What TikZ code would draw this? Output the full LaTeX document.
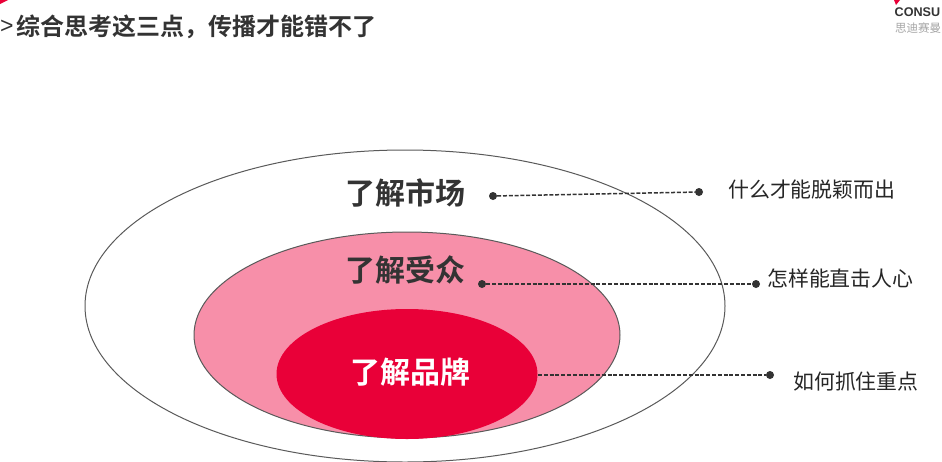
\documentclass[tikz,border=0pt]{standalone}
\usepackage{fontspec}
\setmainfont{Liberation Sans}
\newfontfamily\cjk{Noto Sans CJK SC}
\newfontfamily\cjkb{Noto Sans CJK SC Bold}
\definecolor{darktext}{HTML}{333333}
\definecolor{pinkfill}{HTML}{F78FA9}
\definecolor{redfill}{HTML}{E90038}
\definecolor{edge}{HTML}{5A5A5A}
\tikzset{
  x=1pt,y=-1pt,
  ring/.style={ellipse,draw=edge,line width=1pt,inner sep=0pt,outer sep=0pt},
  dot/.style={circle,fill=darktext,inner sep=0pt,minimum size=8pt},
  leader/.style={draw=darktext,line width=1.5pt,dash pattern=on 4pt off 1.8pt},
  ringlabel/.style={font=\cjkb\fontsize{30}{30}\selectfont,text=darktext,inner sep=0pt},
  sidelabel/.style={font=\cjk\fontsize{20.9}{21}\selectfont,text=black!85,inner sep=0pt,anchor=west},
  titletext/.style={font=\cjkb\fontsize{24}{25}\selectfont,text=darktext,inner sep=0pt,anchor=west}
}
\usetikzlibrary{shapes.geometric}
\begin{document}
\begin{tikzpicture}
\useasboundingbox (0,0) rectangle (942,461);
\clip (0,0) rectangle (942,461);
\fill[white] (0,0) rectangle (942,461);
\fill[redfill] (0,0) -- (8,0) -- (0,4) -- cycle;
\fill[redfill] (894,0) -- (900,0) -- (896,5) -- cycle;
\node[font=\fontsize{23}{23}\selectfont,text=darktext,inner sep=0pt,anchor=west] (gt) at (0,27) {>};
\node[titletext] (title) at (16,27) {综合思考这三点，传播才能错不了};
\node[font=\bfseries\fontsize{12.6}{14}\selectfont,text=darktext,anchor=west,inner sep=0pt] (logo) at (894.5,12) {CONSU};
\node[font=\cjk\fontsize{11.5}{12}\selectfont,text=black!35,anchor=west,inner sep=0pt] (logocn) at (895,28) {思迪赛曼};
\node[ring,fill=white,minimum width=640pt,minimum height=312pt] (market) at (405,306) {};
\node[ring,fill=pinkfill,minimum width=426pt,minimum height=206pt] (audience) at (407,335) {};
\node[ellipse,fill=redfill,inner sep=0pt,minimum width=261pt,minimum height=130pt] (brand) at (407,374) {};
\node[ringlabel] (l1) at (405,193) {了解市场};
\node[ringlabel] (l2) at (405,270) {了解受众};
\node[ringlabel,text=white] (l3) at (410,372) {了解品牌};
\node[dot] (d1a) at (493,196) {};
\node[dot] (d1b) at (699,192) {};
\node[dot] (d2a) at (482,284) {};
\node[dot] (d2b) at (756,284) {};
\coordinate (d3a) at (538,375);
\node[dot] (d3b) at (770,375) {};
\draw[leader] (d1a) -- (d1b);
\draw[leader] (d2a) -- (d2b);
\draw[leader] (d3a) -- (d3b);
\node[sidelabel] (t1) at (728,190) {什么才能脱颖而出};
\node[sidelabel] (t2) at (767,279) {怎样能直击人心};
\node[sidelabel] (t3) at (793,382) {如何抓住重点};
\end{tikzpicture}
\end{document}
